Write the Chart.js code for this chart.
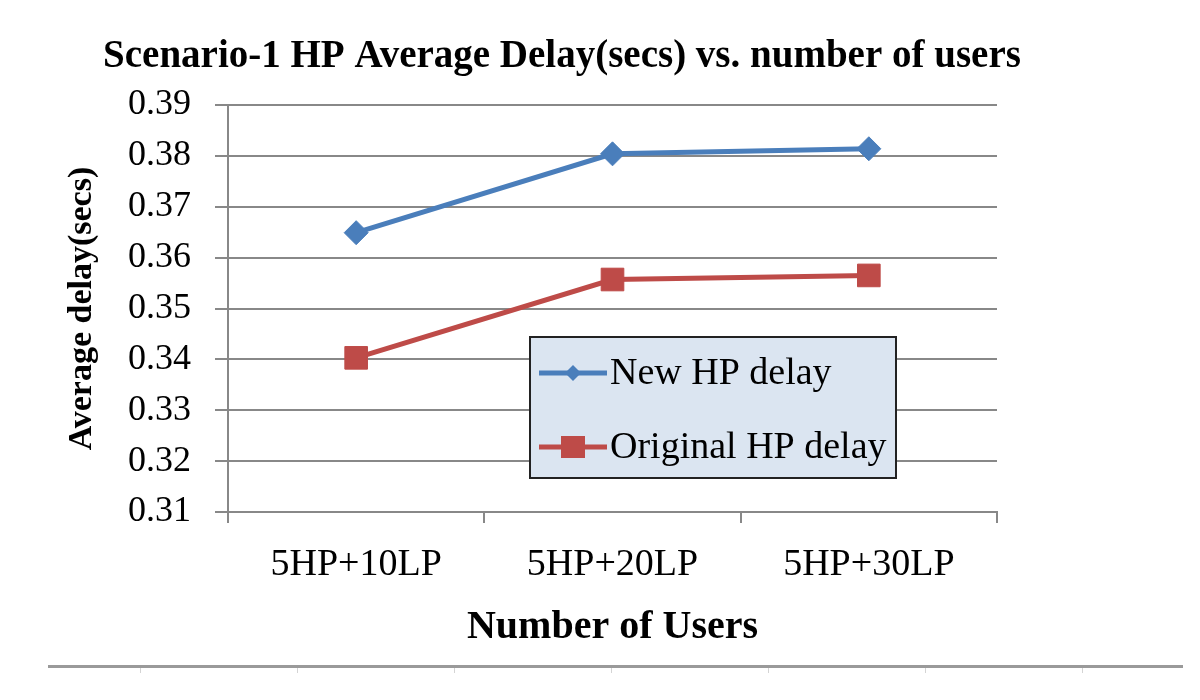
<!DOCTYPE html>
<html>
<head>
<meta charset="utf-8">
<script src="https://cdn.jsdelivr.net/npm/chart.js@4.4.1/dist/chart.umd.min.js"></script>
<style>
  body { margin: 0; background: #fff; }
  #wrap { position: relative; width: 1200px; height: 700px; }
  #rule { position: absolute; left: 48px; top: 665px; width: 1135px; height: 3px; background: #9a9a9a; }
  .tick { position: absolute; top: 668px; width: 1px; height: 5px; background: #d4d4d4; }
</style>
</head>
<body>
<div id="wrap">
  <canvas id="delayChart" width="1200" height="700"></canvas>
  <div id="rule"></div>
</div>
<script>
const chartTitle = "Scenario-1 HP Average Delay(secs) vs. number of users";
const xTitle = "Number of Users";
const yTitle = "Average delay(secs)";
const categories = ["5HP+10LP", "5HP+20LP", "5HP+30LP"];
const seriesNames = ["New HP delay", "Original HP delay"];
const newHpDelay = [0.3649, 0.3804, 0.3814];
const originalHpDelay = [0.3403, 0.3557, 0.3565];
const yMin = 0.31, yMax = 0.39, yStep = 0.01;

const SERIF = '"Liberation Serif", "Times New Roman", serif';
const BLUE = "#4a7ebb";
const RED = "#be4b48";
const GRID = "#888888";

// little ticks under the page rule
[140, 297, 454, 611, 768, 925, 1082].forEach(function (x) {
    let t = document.createElement("div");
    t.className = "tick";
    t.style.left = x + "px";
    document.getElementById("wrap").appendChild(t);
});

const titlePlugin = {
    id: "pageTitle",
    afterDraw(chart) {
        let ctx = chart.ctx;
        ctx.save();
        ctx.font = "bold 39px " + SERIF;
        ctx.fillStyle = "#000";
        ctx.textAlign = "center";
        ctx.textBaseline = "middle";
        ctx.fillText(chartTitle, chart.chartArea.left + 334, 57);
        ctx.restore();
    }
};

const legendPlugin = {
    id: "boxLegend",
    afterDatasetsDraw(chart) {
        let ctx = chart.ctx;
        let a = chart.chartArea;
        let bx = a.left + 302, by = a.top + 232, bw = 366, bh = 141;
        ctx.save();
        ctx.fillStyle = "#dbe5f1";
        ctx.fillRect(bx, by, bw, bh);
        ctx.strokeStyle = "#222";
        ctx.lineWidth = 2;
        ctx.strokeRect(bx, by, bw, bh);

        chart.data.datasets.forEach(function (ds, i) {
            let cy = by + 36 + i * 74;
            ctx.strokeStyle = ds.borderColor;
            ctx.lineWidth = 5;
            ctx.beginPath();
            ctx.moveTo(bx + 9, cy);
            ctx.lineTo(bx + 77, cy);
            ctx.stroke();
            let mx = bx + 43;
            ctx.fillStyle = ds.borderColor;
            ctx.beginPath();
            if (ds.pointStyle === "rectRot") {
                ctx.moveTo(mx, cy - 8);
                ctx.lineTo(mx + 8, cy);
                ctx.lineTo(mx, cy + 8);
                ctx.lineTo(mx - 8, cy);
                ctx.closePath();
            } else {
                ctx.rect(mx - 12, cy - 11, 24, 22);
            }
            ctx.fill();
            ctx.fillStyle = "#000";
            ctx.font = "38px " + SERIF;
            ctx.textAlign = "left";
            ctx.textBaseline = "middle";
            ctx.fillText(ds.label, bx + 80, cy + 1);
        });
        ctx.restore();
    }
};

let ctx = document.getElementById("delayChart").getContext("2d");
let chart = new Chart(ctx, {
    type: "line",
    data: {
        labels: categories,
        datasets: [{
            label: seriesNames[0],
            data: newHpDelay,
            borderColor: BLUE,
            backgroundColor: BLUE,
            borderWidth: 5,
            pointStyle: "rectRot",
            pointRadius: 12,
            pointBorderWidth: 1,
            tension: 0
        }, {
            label: seriesNames[1],
            data: originalHpDelay,
            borderColor: RED,
            backgroundColor: RED,
            borderWidth: 5,
            pointStyle: "rect",
            pointRadius: 16,
            pointBorderWidth: 1,
            tension: 0
        }]
    },
    options: {
        responsive: false,
        animation: false,
        layout: { padding: { top: 105, right: 203, bottom: 40, left: 40 } },
        plugins: {
            legend: { display: false },
            tooltip: { enabled: false },
            title: { display: false }
        },
        scales: {
            x: {
                offset: true,
                grid: { offset: true, drawOnChartArea: false, tickLength: 11, color: GRID, lineWidth: 2 },
                border: { color: GRID, width: 2 },
                ticks: { color: "#000", font: { family: SERIF, size: 38 }, padding: 19, maxRotation: 0 },
                title: { display: true, text: xTitle, color: "#000", font: { family: SERIF, size: 40, weight: "bold" }, padding: { top: 0, bottom: 8 } },
                afterFit(scale) { scale.height = 148; }
            },
            y: {
                min: yMin,
                max: yMax,
                ticks: {
                    stepSize: yStep,
                    color: "#000",
                    font: { family: SERIF, size: 36 },
                    padding: 24,
                    callback: function (v) { return v.toFixed(2); }
                },
                grid: { color: GRID, lineWidth: 2, tickLength: 13 },
                border: { color: GRID, width: 2 },
                title: { display: true, text: yTitle, color: "#000", font: { family: SERIF, size: 34, weight: "bold" }, padding: { top: 22, bottom: 0 } },
                afterFit(scale) { scale.width = 188; }
            }
        }
    },
    plugins: [titlePlugin, legendPlugin]
});
</script>
</body>
</html>
